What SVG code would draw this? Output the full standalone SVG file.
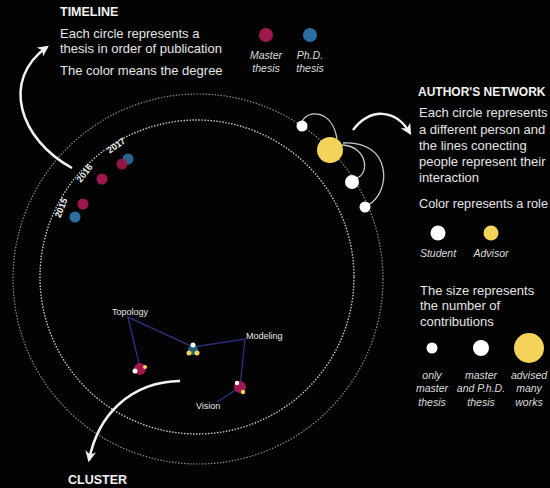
<svg xmlns="http://www.w3.org/2000/svg" width="550" height="488" viewBox="0 0 550 488">
<defs>
<marker id="ah" viewBox="0 0 10 10" refX="8" refY="5" markerWidth="11" markerHeight="11" markerUnits="userSpaceOnUse" orient="auto">
<path d="M0,0 L10,5 L0,10 L3,5 Z" fill="#f2f2f2"/>
</marker>
<style>
.t{font-family:"Liberation Sans",Arial,sans-serif;fill:#e4e4e4;font-size:13px}
.h{font-family:"Liberation Sans",Arial,sans-serif;fill:#f2f2f2;font-size:12.5px;font-weight:bold}
.i{font-family:"Liberation Sans",Arial,sans-serif;fill:#dcdcdc;font-size:10.5px;font-style:italic;text-anchor:middle}
.y{font-family:"Liberation Sans",Arial,sans-serif;fill:#f0f0f0;font-size:9px;font-weight:bold;text-anchor:middle}
.c{font-family:"Liberation Sans",Arial,sans-serif;fill:#e6e6e6;font-size:9px}
.arr{fill:none;stroke:#f2f2f2;stroke-width:2.5;marker-end:url(#ah)}
.lnk{fill:none;stroke:#c8c8c8;stroke-width:1.3}
.cl{fill:none;stroke:#2c2f78;stroke-width:1.4}
.ma{fill:#a0174e}.ph{fill:#2b6ea3}.w{fill:#ffffff}.ye{fill:#f3d35a}
</style>
</defs>
<rect width="550" height="488" fill="#030303"/>

<g id="rings">
<circle cx="198" cy="279" r="185" fill="none" stroke="#8a8a8a" stroke-width="1.2" stroke-dasharray="1.5 1.5"/>
<circle cx="197" cy="277" r="157" fill="none" stroke="#c8c8c8" stroke-width="1.4" stroke-dasharray="1.5 1.5"/>
</g>

<g id="timeline-legend">
<text class="h" x="60" y="16">TIMELINE</text>
<text class="t" x="60" y="38">Each circle represents a</text>
<text class="t" x="60" y="53">thesis in order of publication</text>
<text class="t" x="60" y="75">The color means the degree</text>
<circle class="ma" cx="266" cy="35" r="7"/>
<circle class="ph" cx="310" cy="35" r="7"/>
<text class="i" x="266" y="59">Master</text>
<text class="i" x="266" y="72">thesis</text>
<text class="i" x="310" y="59">Ph.D.</text>
<text class="i" x="310" y="72">thesis</text>
</g>

<g id="timeline">
<text class="y" transform="translate(118,148) rotate(-35)">2017</text>
<text class="y" transform="translate(87,175) rotate(-52)">2016</text>
<text class="y" transform="translate(64,209) rotate(-68)">2015</text>
<circle class="ph" cx="128" cy="159" r="5.5" opacity="0.9"/>
<circle class="ma" cx="122" cy="164" r="5.5" opacity="0.9"/>
<circle class="ma" cx="102" cy="179" r="5.5"/>
<circle class="ma" cx="83" cy="204" r="5.5"/>
<circle class="ph" cx="75" cy="217" r="5.5"/>
</g>

<g id="network">
<path class="lnk" d="M302,122 C306,110 332,108 337,139"/>
<path class="lnk" d="M342,145 C368,146 370,175 356,178"/>
<path class="lnk" d="M343,143 C392,140 392,192 368,205"/>
<circle class="w" cx="302" cy="126" r="5.5"/>
<circle class="ye" cx="330" cy="150" r="13"/>
<circle class="w" cx="352" cy="182" r="7"/>
<circle class="w" cx="365" cy="207" r="5.5"/>
</g>

<g id="network-legend">
<text class="h" x="418" y="96" style="font-size:12px">AUTHOR'S NETWORK</text>
<text class="t" x="419" y="117">Each circle represents</text>
<text class="t" x="419" y="134">a different person and</text>
<text class="t" x="419" y="150">the lines conecting</text>
<text class="t" x="419" y="166">people represent their</text>
<text class="t" x="419" y="182">interaction</text>
<text class="t" x="419" y="208" textLength="129" lengthAdjust="spacingAndGlyphs">Color represents a role</text>
<circle class="w" cx="438" cy="233" r="7.5"/>
<circle class="ye" cx="491" cy="233" r="7.5"/>
<text class="i" x="438" y="257">Student</text>
<text class="i" x="491" y="257">Advisor</text>
<text class="t" x="420" y="295">The size represents</text>
<text class="t" x="420" y="310">the number of</text>
<text class="t" x="420" y="326">contributions</text>
<circle class="w" cx="432" cy="348" r="5.5"/>
<circle class="w" cx="481" cy="348" r="8"/>
<circle class="ye" cx="529" cy="348" r="15"/>
<text class="i" x="432" y="379">only</text>
<text class="i" x="432" y="392">master</text>
<text class="i" x="432" y="406">thesis</text>
<text class="i" x="481" y="379">master</text>
<text class="i" x="481" y="392">and P.h.D.</text>
<text class="i" x="481" y="406">thesis</text>
<text class="i" x="529" y="379">advised</text>
<text class="i" x="529" y="392">many</text>
<text class="i" x="529" y="406">works</text>
</g>

<g id="cluster">
<path class="cl" d="M140,368 L128,317 L193,347 L245,339 L240,387 L217,402"/>
<text class="c" x="112" y="315">Topology</text>
<text class="c" x="246" y="339">Modeling</text>
<text class="c" x="196" y="409">Vision</text>
<circle class="ma" cx="140" cy="369" r="6"/>
<circle class="w" cx="135" cy="371" r="2.5"/>
<circle class="ye" cx="145" cy="367" r="2"/>
<circle cx="193" cy="350" r="5" fill="#1f5f7a"/>
<circle class="w" cx="193" cy="345" r="2.5"/>
<circle class="ye" cx="189" cy="353" r="2.5"/>
<circle class="ye" cx="197" cy="353" r="2.5"/>
<circle class="ma" cx="240" cy="387" r="6"/>
<circle class="w" cx="237" cy="383" r="2.2"/>
<circle class="ye" cx="243" cy="392" r="2.2"/>
</g>
<text class="h" x="68" y="484">CLUSTER</text>

<g id="connectors">
<path class="arr" d="M72,168 C20,140 0,80 47,47"/>
<path class="arr" d="M353,130 C370,108 395,108 410,133"/>
<path class="arr" d="M180,381 C130,382 98,415 89,460"/>
</g>
</svg>
